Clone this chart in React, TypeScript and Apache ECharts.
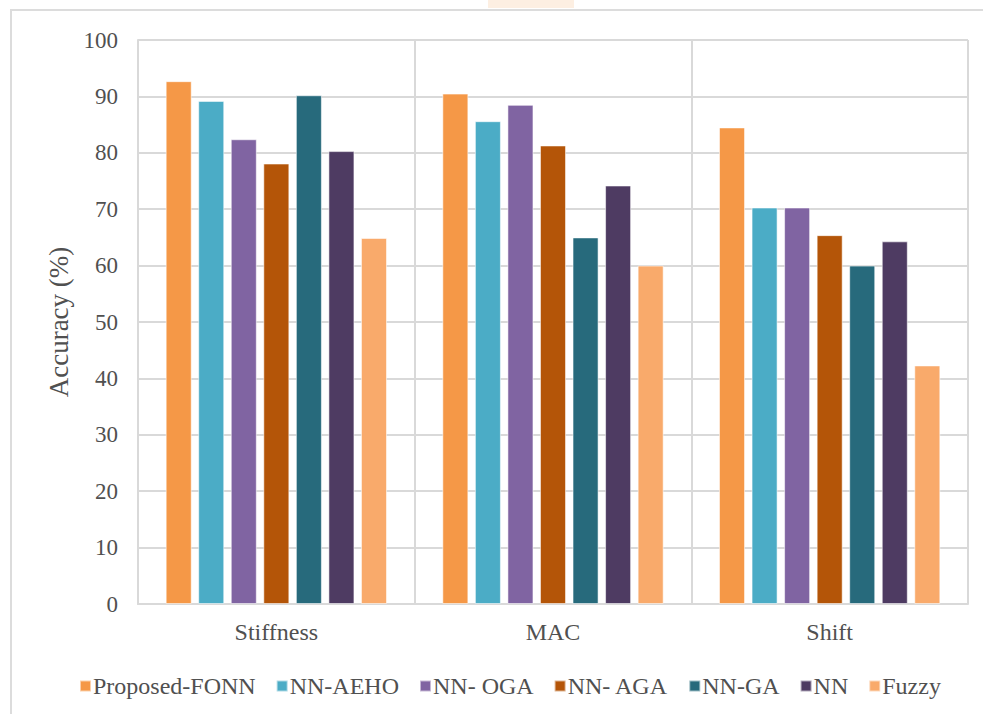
import React, { useEffect, useRef } from "react";
import * as echarts from "echarts";

const categories = ["Stiffness", "MAC", "Shift"];
const seriesNames = ["Proposed-FONN", "NN-AEHO", "NN- OGA", "NN- AGA", "NN-GA", "NN", "Fuzzy"];
const fonnValues = [92.7, 90.5, 84.5];
const aehoValues = [89.2, 85.6, 70.3];
const ogaValues = [82.4, 88.5, 70.3];
const agaValues = [78.1, 81.3, 65.4];
const gaValues = [90.2, 65.0, 60.0];
const nnValues = [80.3, 74.2, 64.3];
const fuzzyValues = [64.9, 60.0, 42.3];
const seriesColors = ["#F59847", "#4BACC6", "#8064A2", "#B45508", "#276A7C", "#4E3B62", "#F9AA6B"];
const yTicks = [0, 10, 20, 30, 40, 50, 60, 70, 80, 90, 100];

const FONT = "Liberation Serif";
const TEXT_COLOR = "#505050";

export default function App() {
  const ref = useRef<HTMLDivElement>(null);
  useEffect(() => {
    if (!ref.current) return;
    const chart = echarts.init(ref.current, null, { renderer: "svg" });
    const allValues = [fonnValues, aehoValues, ogaValues, agaValues, gaValues, nnValues, fuzzyValues];
    chart.setOption({
      animation: false,
      backgroundColor: "#ffffff",
      grid: { left: 138, right: 15, top: 40, bottom: 110, containLabel: false },
      graphic: [
        {
          type: "rect",
          shape: { x: 11, y: 10, width: 1000, height: 720 },
          style: { fill: "none", stroke: "#dcdcdc", lineWidth: 2 },
          z: -1,
        },
        {
          type: "rect",
          shape: { x: 488, y: -2, width: 86, height: 10 },
          style: { fill: "#FDEFE2" },
          z: -1,
        },
      ],
      legend: {
        data: seriesNames,
        left: 74,
        top: 669,
        itemWidth: 11,
        itemHeight: 11,
        itemGap: 20,
        icon: "rect",
        textStyle: { fontFamily: FONT, fontSize: 24, color: TEXT_COLOR, padding: [0, 0, 0, -3] },
      },
      xAxis: {
        type: "category",
        data: categories,
        axisLine: { show: true, lineStyle: { color: "#d9d9d9", width: 2 } },
        axisTick: { show: false },
        splitLine: { show: true, lineStyle: { color: "#d9d9d9", width: 2 } },
        axisLabel: { fontFamily: FONT, fontSize: 24, color: TEXT_COLOR, margin: 16 },
      },
      yAxis: {
        type: "value",
        min: yTicks[0],
        max: yTicks[yTicks.length - 1],
        interval: 10,
        name: "Accuracy (%)",
        nameLocation: "middle",
        nameGap: 63,
        nameTextStyle: { fontFamily: FONT, fontSize: 27, color: TEXT_COLOR },
        axisLine: { show: true, lineStyle: { color: "#d9d9d9", width: 2 } },
        axisTick: { show: false },
        splitLine: { show: true, lineStyle: { color: "#d9d9d9", width: 2 } },
        axisLabel: { fontFamily: FONT, fontSize: 23, color: TEXT_COLOR, margin: 20 },
      },
      series: seriesNames.map((name, i) => ({
        name,
        type: "bar",
        data: allValues[i],
        barCategoryGap: "20%",
        barGap: "25%",
        itemStyle: {
          color: seriesColors[i],
          borderColor: "rgba(255,255,255,0.55)",
          borderWidth: 1,
        },
      })),
    });
    return () => chart.dispose();
  }, []);
  return (
    <div
      ref={ref}
      style={{ position: "absolute", left: 0, top: 0, width: 983, height: 714 }}
    />
  );
}
